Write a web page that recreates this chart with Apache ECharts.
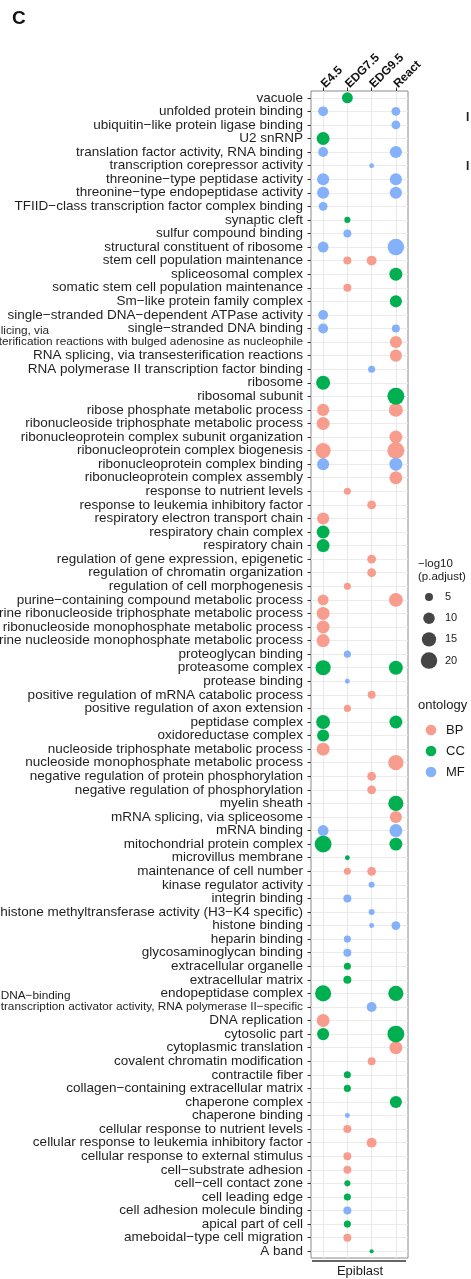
<!DOCTYPE html>
<html>
<head>
<meta charset="utf-8">
<script src="https://cdn.jsdelivr.net/npm/echarts@6/dist/echarts.min.js"></script>
<style>
  html, body { margin: 0; padding: 0; background: #ffffff; }
  #chart { width: 471px; height: 1279px; }
</style>
</head>
<body>
<div id="chart"></div>
<script>
// GO terms, top to bottom
const categories = [
  'vacuole', 'unfolded protein binding', 'ubiquitin\u2212like protein ligase binding', 'U2 snRNP',
  'translation factor activity, RNA binding', 'transcription corepressor activity',
  'threonine\u2212type peptidase activity', 'threonine\u2212type endopeptidase activity',
  'TFIID\u2212class transcription factor complex binding', 'synaptic cleft',
  'sulfur compound binding', 'structural constituent of ribosome', 'stem cell population maintenance',
  'spliceosomal complex', 'somatic stem cell population maintenance', 'Sm\u2212like protein family complex',
  'single\u2212stranded DNA\u2212dependent ATPase activity', 'single\u2212stranded DNA binding',
  'RNA splicing, via\ntransesterification reactions with bulged adenosine as nucleophile',
  'RNA splicing, via transesterification reactions', 'RNA polymerase II transcription factor binding',
  'ribosome', 'ribosomal subunit', 'ribose phosphate metabolic process',
  'ribonucleoside triphosphate metabolic process', 'ribonucleoprotein complex subunit organization',
  'ribonucleoprotein complex biogenesis', 'ribonucleoprotein complex binding',
  'ribonucleoprotein complex assembly', 'response to nutrient levels',
  'response to leukemia inhibitory factor', 'respiratory electron transport chain',
  'respiratory chain complex', 'respiratory chain', 'regulation of gene expression, epigenetic',
  'regulation of chromatin organization', 'regulation of cell morphogenesis',
  'purine\u2212containing compound metabolic process', 'purine ribonucleoside triphosphate metabolic process',
  'purine ribonucleoside monophosphate metabolic process', 'purine nucleoside monophosphate metabolic process',
  'proteoglycan binding', 'proteasome complex', 'protease binding',
  'positive regulation of mRNA catabolic process', 'positive regulation of axon extension',
  'peptidase complex', 'oxidoreductase complex', 'nucleoside triphosphate metabolic process',
  'nucleoside monophosphate metabolic process', 'negative regulation of protein phosphorylation',
  'negative regulation of phosphorylation', 'myelin sheath', 'mRNA splicing, via spliceosome',
  'mRNA binding', 'mitochondrial protein complex', 'microvillus membrane', 'maintenance of cell number',
  'kinase regulator activity', 'integrin binding', 'histone methyltransferase activity (H3\u2212K4 specific)',
  'histone binding', 'heparin binding', 'glycosaminoglycan binding', 'extracellular organelle',
  'extracellular matrix', 'endopeptidase complex',
  'DNA\u2212binding\ntranscription activator activity, RNA polymerase II\u2212specific',
  'DNA replication', 'cytosolic part', 'cytoplasmic translation', 'covalent chromatin modification',
  'contractile fiber', 'collagen\u2212containing extracellular matrix', 'chaperone complex',
  'chaperone binding', 'cellular response to nutrient levels',
  'cellular response to leukemia inhibitory factor', 'cellular response to external stimulus',
  'cell\u2212substrate adhesion', 'cell\u2212cell contact zone', 'cell leading edge',
  'cell adhesion molecule binding', 'apical part of cell', 'ameboidal\u2212type cell migration', 'A band'
];

// ontology of each term (same order as categories)
const ontology = [
  'CC','MF','MF','CC','MF','MF','MF','MF','MF','CC',
  'MF','MF','BP','CC','BP','CC','MF','MF','BP','BP',
  'MF','CC','CC','BP','BP','BP','BP','MF','BP','BP',
  'BP','BP','CC','CC','BP','BP','BP','BP','BP','BP',
  'BP','MF','CC','MF','BP','BP','CC','CC','BP','BP',
  'BP','BP','CC','BP','MF','CC','CC','BP','MF','MF',
  'MF','MF','MF','MF','CC','CC','CC','MF','BP','CC',
  'BP','BP','CC','CC','CC','MF','BP','BP','BP','BP',
  'CC','CC','MF','CC','BP','CC'
];

const columns = ['E4.5', 'EDG7.5', 'EDG9.5', 'React'];
const ontologyLevels = ['BP', 'CC', 'MF'];
const sizeBreaks = [5, 10, 15, 20];

// -log10(p.adjust) per term, one array per sample (null = not enriched)
const _ = null;
const valE45 = [
  _, 7.5, _, 12.5, 7.5, _, 11, 11, 6, _,
  _, 9, _, _, _, _, 7.5, 7.5, _, _,
  _, 14.5, _, 11, 12.5, _, 17, 11, _, _,
  _, 11, 12.5, 12.5, _, _, _, 9, 12.5, 12.5,
  12.5, _, 17, _, _, _, 14.5, 11, 12.5, _,
  _, _, _, _, 9, 21, _, _, _, _,
  _, _, _, _, _, _, 19, _, 12.5, 11,
  _, _, _, _, _, _, _, _, _, _,
  _, _, _, _, _, _
];
const valEDG75 = [
  9, _, _, _, _, _, _, _, _, 3,
  5, _, 5, _, 5, _, _, _, _, _,
  _, _, _, _, _, _, _, _, _, 4,
  _, _, _, _, _, _, 4, _, _, _,
  _, 4, _, 2, _, 4, _, _, _, _,
  _, _, _, _, _, _, 2, 4, _, 5,
  _, _, 4, 5, 4, 5, _, _, _, _,
  _, _, 4, 4, _, 2, 5, _, 5, 5,
  3, 4, 5, 4, 5, _
];
const valEDG95 = [
  _, _, _, _, _, 2, _, _, _, _,
  _, _, 7.5, _, _, _, _, _, _, _,
  4, _, _, _, _, _, _, _, _, _,
  6, _, _, _, 6, 6, _, _, _, _,
  _, _, _, _, 5, _, _, _, _, _,
  6, 6, _, _, _, _, _, 6, 3, _,
  3, 2, _, _, _, _, _, 7.5, _, _,
  _, 5, _, _, _, _, _, 7.5, _, _,
  _, _, _, _, _, 1.5
];
const valReact = [
  _, 6, 6, _, 11, _, 11, 11, _, _,
  _, 20, _, 12.5, _, 11, _, 5, 11, 11,
  _, _, 21, 14.5, _, 12.5, 21, 12.5, 12.5, _,
  _, _, _, _, _, _, _, 14.5, _, _,
  _, _, 14.5, _, _, _, 12.5, _, _, 17,
  _, _, 17, 11, 12.5, 12.5, _, _, _, _,
  _, 6, _, _, _, _, 17, _, _, 21,
  12.5, _, _, _, 11, _, _, _, _, _,
  _, _, _, _, _, _
];

const valuesByColumn = [valE45, valEDG75, valEDG95, valReact];
const ontologyColors = { BP: '#F89C8E', CC: '#00B050', MF: '#85B0FA' };
const FONT = '"Liberation Sans", Arial, Helvetica, sans-serif';

// point diameter grows with the square root of -log10(p.adjust)
function dotDiameter(v) {
  return 3.8 * Math.sqrt(v) - 0.5;
}

const chart = echarts.init(document.getElementById('chart'), null, { renderer: 'canvas' });

const dotSeries = ontologyLevels.map(function (level) {
  const data = [];
  valuesByColumn.forEach(function (vals, ci) {
    vals.forEach(function (v, ti) {
      if (v !== null && ontology[ti] === level) {
        data.push([columns[ci], categories[ti], v]);
      }
    });
  });
  return {
    name: level,
    type: 'scatter',
    z: 20,
    data: data,
    symbol: 'circle',
    symbolSize: function (d) { return dotDiameter(d[2]); },
    itemStyle: { color: ontologyColors[level], opacity: 1 },
    silent: true
  };
});

// grid lines through the category centres
const gridSeries = {
  type: 'scatter',
  z: 0,
  data: [],
  silent: true,
  markLine: {
    silent: true,
    z: 1,
    symbol: ['none', 'none'],
    animation: false,
    label: { show: false },
    lineStyle: { color: '#EBEBEB', width: 1.2, type: 'solid' },
    data: categories.map(function (c) { return { yAxis: c }; })
      .concat(columns.map(function (c) { return { xAxis: c }; }))
  }
};

function yLabel(value) {
  if (value.indexOf('\n') >= 0) {
    const parts = value.split('\n');
    return '{w|' + parts[0] + '}\n{w|' + parts[1] + '}\n{w| }';
  }
  return value;
}

// legend for dot size and ontology colour
const legendGraphics = [];
legendGraphics.push({
  type: 'text', left: 418, top: 557,
  style: { text: '\u2212log10\n(p.adjust)', font: '11.5px ' + FONT, fill: '#1a1a1a', lineHeight: 13.5 }
});
sizeBreaks.forEach(function (b, i) {
  const cy = 597 + i * 21.2;
  legendGraphics.push({
    type: 'circle', shape: { cx: 429, cy: cy, r: dotDiameter(b) / 2 },
    style: { fill: '#454545' }
  });
  legendGraphics.push({
    type: 'text', x: 445, y: cy,
    style: { text: String(b), font: '11px ' + FONT, fill: '#1a1a1a', verticalAlign: 'middle' }
  });
});
legendGraphics.push({
  type: 'text', left: 418, top: 699,
  style: { text: 'ontology', font: '13px ' + FONT, fill: '#1a1a1a' }
});
ontologyLevels.forEach(function (level, i) {
  const cy = 730 + i * 21;
  legendGraphics.push({
    type: 'circle', shape: { cx: 431, cy: cy, r: 5.3 },
    style: { fill: ontologyColors[level] }
  });
  legendGraphics.push({
    type: 'text', x: 446, y: cy,
    style: { text: level, font: '13px ' + FONT, fill: '#1a1a1a', verticalAlign: 'middle' }
  });
});

chart.setOption({
  animation: false,
  backgroundColor: '#ffffff',
  grid: {
    left: 311, right: 63, top: 91, bottom: 21,
    containLabel: false,
    outerBoundsMode: 'none',
    show: true, borderColor: '#8a8a8a', borderWidth: 1, backgroundColor: 'transparent'
  },
  xAxis: {
    type: 'category',
    position: 'top',
    data: columns,
    boundaryGap: true,
    axisLine: { show: false },
    axisTick: { show: true, alignWithLabel: true, length: 3.5, lineStyle: { color: '#333', width: 1 } },
    splitLine: { show: false },
    axisLabel: {
      interval: 0, rotate: -45, margin: 5,
      fontFamily: FONT, fontSize: 12, fontWeight: 'bold', color: '#111'
    }
  },
  yAxis: {
    type: 'category',
    data: categories,
    inverse: true,
    boundaryGap: true,
    axisLine: { show: false },
    axisTick: { show: true, alignWithLabel: true, length: 3.5, lineStyle: { color: '#333', width: 1 } },
    splitLine: { show: false },
    axisLabel: {
      interval: 0, margin: 8,
      fontFamily: FONT, fontSize: 13.5, color: '#1f1f1f',
      formatter: yLabel,
      rich: {
        w: { align: 'left', fontFamily: FONT, fontSize: 11.8, lineHeight: 11.5, color: '#1f1f1f' }
      }
    }
  },
  series: [gridSeries].concat(dotSeries),
  graphic: [
    { type: 'text', left: 12, top: 9, style: { text: 'C', font: 'bold 19px ' + FONT, fill: '#111' } },
    { type: 'line', shape: { x1: 312, y1: 1261, x2: 406, y2: 1261 }, style: { stroke: '#333', lineWidth: 1.3 } },
    { type: 'text', x: 360, y: 1271, style: { text: 'Epiblast', font: '13px ' + FONT, fill: '#1a1a1a', align: 'center', verticalAlign: 'middle' } },
    { type: 'text', x: 466, y: 118, style: { text: 'I', font: 'bold 12px ' + FONT, fill: '#222', verticalAlign: 'middle' } },
    { type: 'text', x: 466, y: 167, style: { text: 'I', font: 'bold 12px ' + FONT, fill: '#222', verticalAlign: 'middle' } }
  ].concat(legendGraphics)
});
</script>
</body>
</html>
